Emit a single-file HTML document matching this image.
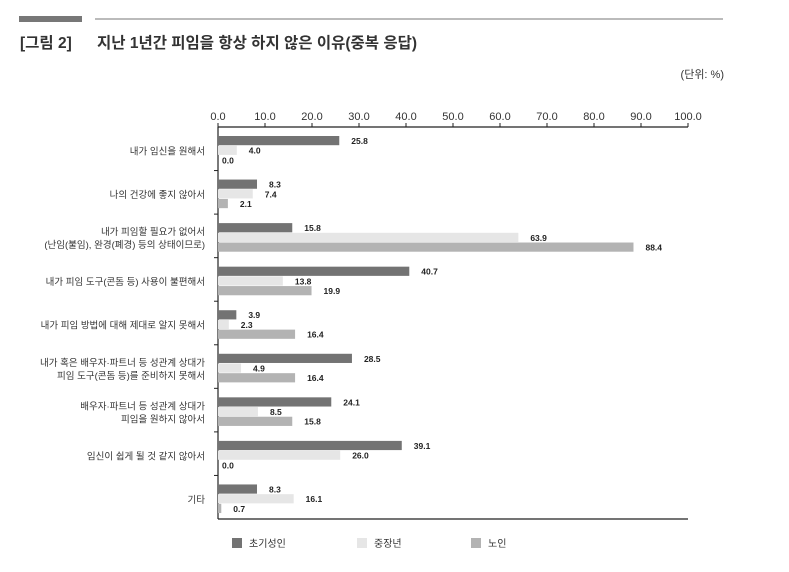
<!DOCTYPE html>
<html><head><meta charset="utf-8"><style>
body{margin:0;background:#fff;width:789px;height:567px;overflow:hidden;font-family:"Liberation Sans","Noto Sans CJK KR",sans-serif}
svg text{font-family:"Liberation Sans","Noto Sans CJK KR",sans-serif}
</style></head><body>
<svg id="chart" width="789" height="567" xmlns="http://www.w3.org/2000/svg">
<rect x="19" y="16" width="63" height="6" fill="#777"/>
<line x1="95" y1="19" x2="723" y2="19" stroke="#777" stroke-width="1"/>
<text x="20" y="48" font-size="15.5" fill="#333" font-weight="bold">[그림 2]</text>
<text x="97" y="48" font-size="15.5" fill="#333" font-weight="bold">지난 1년간 피임을 항상 하지 않은 이유(중복 응답)</text>
<text x="724" y="78" font-size="11" fill="#333" text-anchor="end">(단위: %)</text>
<g id="axes"></g><g id="bars"></g><g id="legend"></g>
</svg>
<script>
const categories=[["내가 임신을 원해서"],["나의 건강에 좋지 않아서"],["내가 피임할 필요가 없어서","(난임(불임), 완경(폐경) 등의 상태이므로)"],["내가 피임 도구(콘돔 등) 사용이 불편해서"],["내가 피임 방법에 대해 제대로 알지 못해서"],["내가 혹은 배우자·파트너 등 성관계 상대가","피임 도구(콘돔 등)를 준비하지 못해서"],["배우자·파트너 등 성관계 상대가","피임을 원하지 않아서"],["임신이 쉽게 될 것 같지 않아서"],["기타"]];
const seriesNames=["초기성인","중장년","노인"];
const youngAdult=[25.8,8.3,15.8,40.7,3.9,28.5,24.1,39.1,8.3];
const middleAge=[4.0,7.4,63.9,13.8,2.3,4.9,8.5,26.0,16.1];
const elderly=[0.0,2.1,88.4,19.9,16.4,16.4,15.8,0.0,0.7];
const ticks=[0,10,20,30,40,50,60,70,80,90,100];
const colors=["#737373","#e6e6e6","#b3b3b3"];
const NS="http://www.w3.org/2000/svg";
const x0=218,x1=688,yTop=127,yBot=519;
const xs=v=>x0+(x1-x0)*v/100;
const groupH=(yBot-yTop)/categories.length;
function mk(tag,attrs,parent,txt){const e=document.createElementNS(NS,tag);for(const k in attrs)e.setAttribute(k,attrs[k]);if(txt!==undefined)e.textContent=txt;parent.appendChild(e);return e;}
const axes=document.getElementById('axes'),bars=document.getElementById('bars'),legend=document.getElementById('legend');
let e=mk('line',{x1:x0,y1:yTop,x2:x1,y2:yTop,stroke:'#222','stroke-width':1.2},axes);


e=mk('line',{x1:x0,y1:yTop,x2:x0,y2:yBot,stroke:'#222','stroke-width':1.2},axes);


e=mk('line',{x1:x0,y1:yBot,x2:x1,y2:yBot,stroke:'#222','stroke-width':1.2},axes);


ticks.forEach(t=>{
  let l=mk('line',{x1:xs(t),y1:yTop,x2:xs(t),y2:yTop-4,stroke:'#222'},axes);
  
  
  let tx=mk('text',{x:xs(t),y:yTop-7,'font-size':11,fill:'#333','text-anchor':'middle'},axes,t.toFixed(1));
  
  
});
const series=[youngAdult,middleAge,elderly];
categories.forEach((c,i)=>{
  const g0=yTop+i*groupH;
  if(i>0){let l=mk('line',{x1:x0,y1:g0,x2:x0-4,y2:g0,stroke:'#222'},axes);
    
    }
  const cy=g0+9+14.5;
  c.forEach((line,j)=>{
    let t=mk('text',{x:205,y:cy+4+(j-(c.length-1)/2)*13,'font-size':9.5,fill:'#333','text-anchor':'end'},axes,line);
    
    
  });
  series.forEach((s,k)=>{
    const y=g0+9+k*9.7, v=s[i];
    let r=mk('rect',{x:x0,y:y,width:Math.max(0,xs(v)-x0),height:9.2,fill:colors[k]},bars);
    
    
    let t=mk('text',{x:xs(v)+(v===0?4:12),y:y+8,'font-size':8.5,fill:'#222','font-weight':'bold'},bars,v.toFixed(1));
    
    
  });
});
const lx=[232,357,471];
seriesNames.forEach((n,k)=>{
  let r=mk('rect',{x:lx[k],y:538,width:10,height:10,fill:colors[k]},legend);
  
  
  let t=mk('text',{x:lx[k]+17,y:547,'font-size':10,fill:'#333'},legend,n);
  
  
});
</script>
</body></html>
